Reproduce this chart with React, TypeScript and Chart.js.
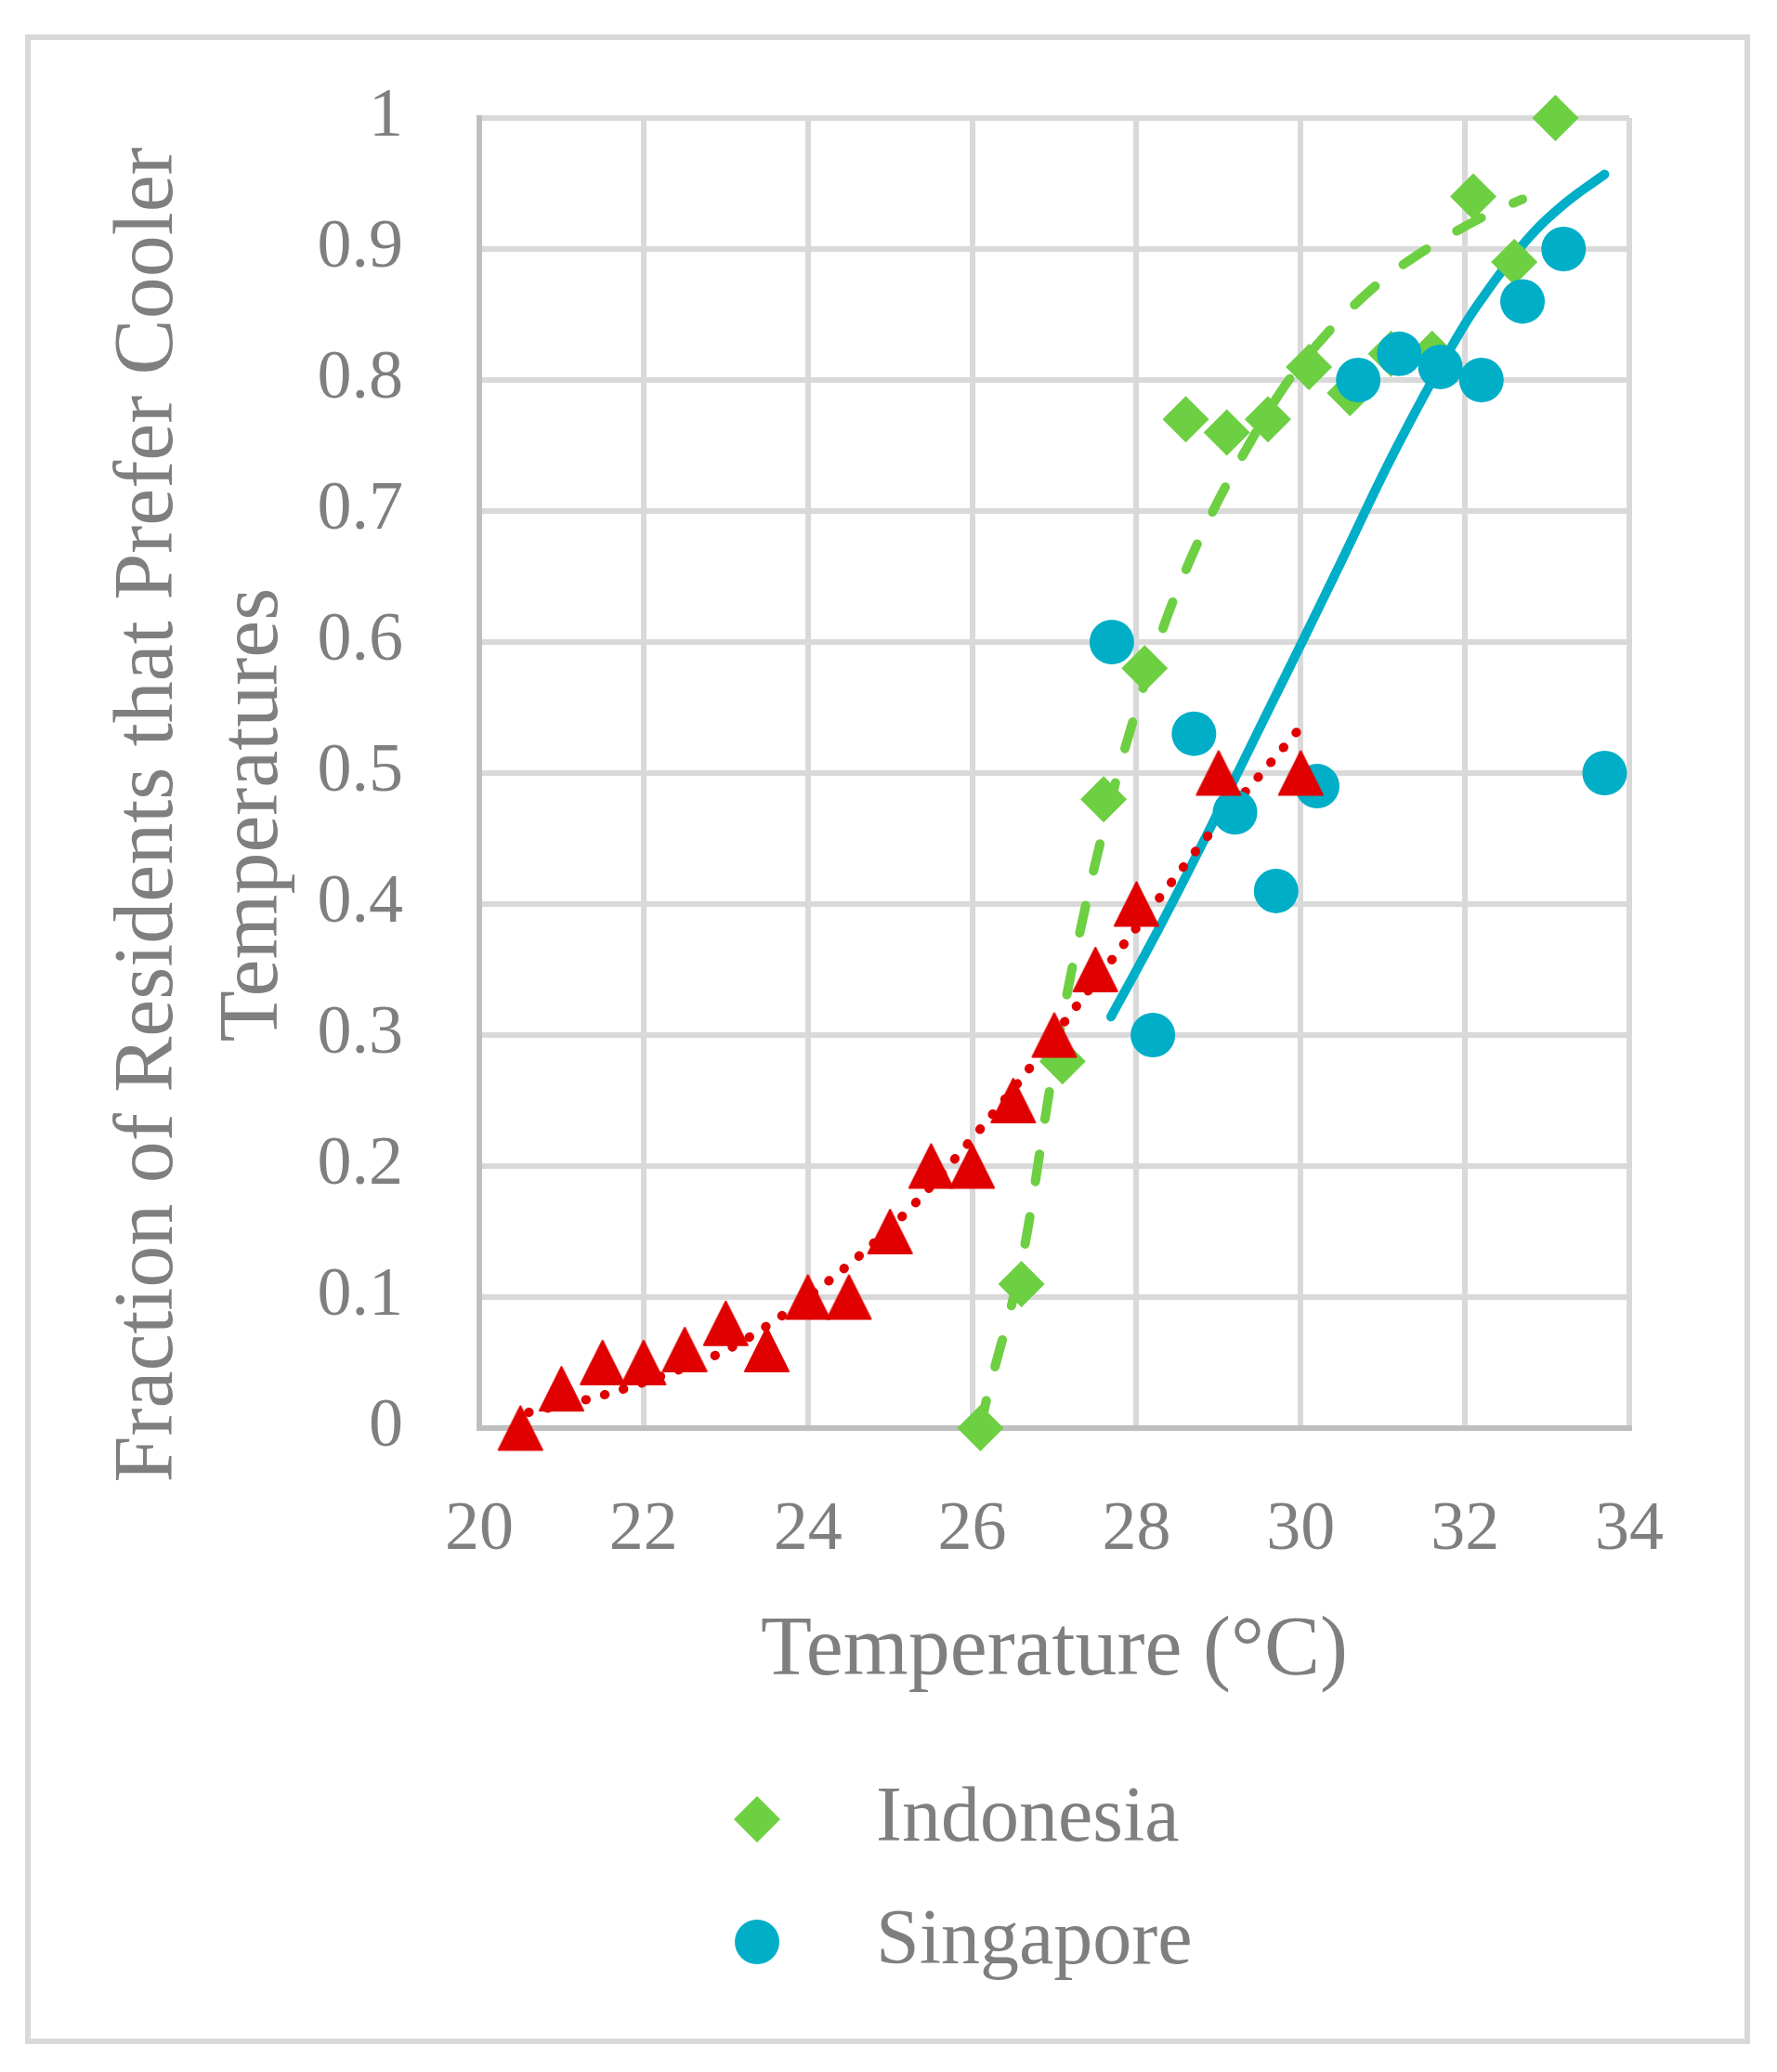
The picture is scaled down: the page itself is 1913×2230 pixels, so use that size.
import { useEffect, useRef } from "react";
import { Chart, registerables } from "chart.js";

Chart.register(...registerables);

// Indonesia survey points
const indonesiaTemp = [26.1, 26.6, 27.1, 27.6, 28.1, 28.6, 29.1, 29.6, 30.1, 30.6, 31.1, 31.6, 32.1, 32.6, 33.1];
const indonesiaFrac = [0, 0.11, 0.28, 0.48, 0.58, 0.77, 0.76, 0.77, 0.81, 0.79, 0.82, 0.82, 0.94, 0.89, 1.0];

// Singapore survey points
const singaporeTemp = [27.7, 28.2, 28.7, 29.2, 29.7, 30.2, 30.7, 31.2, 31.7, 32.2, 32.7, 33.2, 33.7];
const singaporeFrac = [0.6, 0.3, 0.53, 0.47, 0.41, 0.49, 0.8, 0.82, 0.81, 0.8, 0.86, 0.9, 0.5];

// third series (red triangles, not in the legend)
const redTemp = [20.5, 21, 21.5, 22, 22.5, 23, 23.5, 24, 24.5, 25, 25.5, 26, 26.5, 27, 27.5, 28, 29, 30];
const redFrac = [0, 0.03, 0.05, 0.05, 0.06, 0.08, 0.06, 0.1, 0.1, 0.15, 0.2, 0.2, 0.25, 0.3, 0.35, 0.4, 0.5, 0.5];

// fitted curves
const indonesiaFitTemp = [26.1, 26.19, 26.3, 26.4, 26.55, 26.68, 26.81, 26.94, 27.15, 27.32, 27.51, 27.82, 28.32, 28.67, 28.98, 29.38, 29.81, 30.34, 30.95, 31.61, 32.33, 32.7];
const indonesiaFitFrac = [0, 0.026, 0.052, 0.075, 0.112, 0.153, 0.205, 0.257, 0.33, 0.381, 0.434, 0.51, 0.61, 0.665, 0.706, 0.752, 0.796, 0.837, 0.874, 0.903, 0.928, 0.938];

const singaporeFitTemp = [27.69, 28.27, 28.93, 29.63, 30.04, 30.49, 31.05, 31.5, 31.85, 32.16, 32.74, 33.22, 33.7];
const singaporeFitFrac = [0.314, 0.381, 0.462, 0.551, 0.603, 0.661, 0.734, 0.788, 0.827, 0.858, 0.906, 0.935, 0.957];

const redFitTemp = [20.6, 21.44, 22.32, 22.99, 23.62, 24.56, 25.25, 26.04, 26.64, 27.22, 27.94, 28.37, 28.96, 29.58, 30.0];
const redFitFrac = [0.012, 0.024, 0.042, 0.059, 0.083, 0.128, 0.168, 0.224, 0.27, 0.318, 0.377, 0.412, 0.459, 0.504, 0.535];

const legendLabels = ["Indonesia", "Singapore"];
const yTitle = ["Fraction of Residents that Prefer Cooler", "Temperatures"];
const xTitle = "Temperature (°C)";

const GREEN = "#6dcf42";
const BLUE = "#00aec7";
const RED = "#e00000";
const TEXT = "#7f7f7f";
const FONT = '"Liberation Serif", "Times New Roman", serif';

const pts = (xs: number[], ys: number[]) => xs.map((x, i) => ({ x, y: ys[i] }));

// triangle centred on its bounding box (Chart.js' own one sits high)
function makeTriangle(color: string, w: number, h: number) {
  const c = document.createElement("canvas");
  c.width = w + 4;
  c.height = h + 4;
  const ctx = c.getContext("2d")!;
  ctx.fillStyle = color;
  ctx.strokeStyle = color;
  ctx.lineWidth = 2;
  ctx.lineJoin = "round";
  ctx.beginPath();
  ctx.moveTo(c.width / 2, 2);
  ctx.lineTo(w + 2, h + 2);
  ctx.lineTo(2, h + 2);
  ctx.closePath();
  ctx.fill();
  ctx.stroke();
  return c;
}

const decorPlugin = {
  id: "decor",
  afterDraw(chart: Chart) {
    const ctx = chart.ctx;
    const area = chart.chartArea;
    ctx.save();

    // outer frame
    ctx.strokeStyle = "#d9d9d9";
    ctx.lineWidth = 6;
    ctx.strokeRect(30, 40, 1851, 2157);

    // y axis title, two lines
    const cy = (area.top + area.bottom) / 2 + 45;
    ctx.fillStyle = TEXT;
    ctx.font = `90px ${FONT}`;
    ctx.textAlign = "center";
    ctx.textBaseline = "alphabetic";
    const baselines = [185, 298];
    yTitle.forEach((line, i) => {
      ctx.save();
      ctx.translate(baselines[i], cy);
      ctx.rotate(-Math.PI / 2);
      ctx.fillText(line, 0, 0);
      ctx.restore();
    });

    // legend
    const mx = 815;
    const rows = [1958, 2090];
    ctx.fillStyle = GREEN;
    ctx.beginPath();
    ctx.moveTo(mx, rows[0] - 25);
    ctx.lineTo(mx + 25, rows[0]);
    ctx.lineTo(mx, rows[0] + 25);
    ctx.lineTo(mx - 25, rows[0]);
    ctx.closePath();
    ctx.fill();
    ctx.fillStyle = BLUE;
    ctx.beginPath();
    ctx.arc(mx, rows[1], 24, 0, Math.PI * 2);
    ctx.fill();

    ctx.fillStyle = TEXT;
    ctx.font = `84px ${FONT}`;
    ctx.textAlign = "left";
    ctx.textBaseline = "alphabetic";
    ctx.fillText(legendLabels[0], 943, 1981);
    ctx.fillText(legendLabels[1], 943, 2113);

    ctx.restore();
  },
};

const App = () => {
  const chartRef = useRef<HTMLCanvasElement>(null);
  const chartInstanceRef = useRef<Chart>();

  useEffect(() => {
    if (!chartRef.current) return;
    if (chartInstanceRef.current) chartInstanceRef.current.destroy();
    const ctx = chartRef.current.getContext("2d");
    if (!ctx) return;

    const triangle = makeTriangle(RED, 47, 47);

    chartInstanceRef.current = new Chart(ctx, {
      type: "scatter",
      data: {
        datasets: [
          {
            label: "Red triangles",
            data: pts(redTemp, redFrac),
            pointStyle: triangle,
            backgroundColor: RED,
            order: 1,
            clip: false,
          },
          {
            label: legendLabels[1],
            data: pts(singaporeTemp, singaporeFrac),
            pointStyle: "circle",
            pointRadius: 24,
            pointBorderWidth: 0,
            backgroundColor: BLUE,
            order: 2,
            clip: false,
          },
          {
            label: legendLabels[0],
            data: pts(indonesiaTemp, indonesiaFrac),
            pointStyle: "rectRot",
            pointRadius: 25,
            pointBorderWidth: 0,
            backgroundColor: GREEN,
            order: 3,
            clip: false,
          },
          {
            label: "Red fit",
            data: pts(redFitTemp, redFitFrac),
            showLine: true,
            pointRadius: 0,
            borderColor: RED,
            borderWidth: 10,
            borderDash: [0.5, 20.5],
            borderCapStyle: "round",
            cubicInterpolationMode: "monotone",
            order: 4,
            clip: false,
          },
          {
            label: "Indonesia fit",
            data: pts(indonesiaFitTemp, indonesiaFitFrac),
            showLine: true,
            pointRadius: 0,
            borderColor: GREEN,
            borderWidth: 10,
            borderDash: [30, 38],
            borderCapStyle: "round",
            cubicInterpolationMode: "monotone",
            order: 5,
            clip: false,
          },
          {
            label: "Singapore fit",
            data: pts(singaporeFitTemp, singaporeFitFrac),
            showLine: true,
            pointRadius: 0,
            borderColor: BLUE,
            borderWidth: 10,
            borderCapStyle: "round",
            tension: 0.4,
            order: 6,
            clip: false,
          },
        ],
      },
      options: {
        animation: false,
        responsive: true,
        maintainAspectRatio: false,
        events: [],
        layout: {
          padding: { top: 127, right: 159, bottom: 398, left: 0 },
        },
        plugins: {
          legend: { display: false },
          tooltip: { enabled: false },
        },
        scales: {
          x: {
            type: "linear",
            min: 20,
            max: 34,
            ticks: {
              stepSize: 2,
              padding: 66,
              color: TEXT,
              font: { family: FONT, size: 74 },
            },
            grid: { color: "#d9d9d9", lineWidth: 6, drawTicks: false },
            border: { color: "#bfbfbf", width: 6 },
            title: {
              display: true,
              text: xTitle,
              color: TEXT,
              font: { family: FONT, size: 90 },
              padding: 0,
            },
            afterFit: (scale: any) => {
              scale.height = 295;
            },
          },
          y: {
            type: "linear",
            min: 0,
            max: 1,
            ticks: {
              stepSize: 0.1,
              padding: 82,
              color: TEXT,
              font: { family: FONT, size: 74 },
              callback: (v: any) => String(Math.round(Number(v) * 10) / 10),
            },
            grid: { color: "#d9d9d9", lineWidth: 6, drawTicks: false },
            border: { color: "#bfbfbf", width: 6 },
            afterFit: (scale: any) => {
              scale.width = 516;
            },
          },
        },
      },
      plugins: [decorPlugin],
    });

    return () => {
      if (chartInstanceRef.current) {
        chartInstanceRef.current.destroy();
        chartInstanceRef.current = undefined;
      }
    };
  }, []);

  return (
    <div style={{ position: "absolute", left: 0, top: 0, width: 1913, height: 2230, background: "#ffffff" }}>
      <canvas ref={chartRef} />
    </div>
  );
};

export default App;
